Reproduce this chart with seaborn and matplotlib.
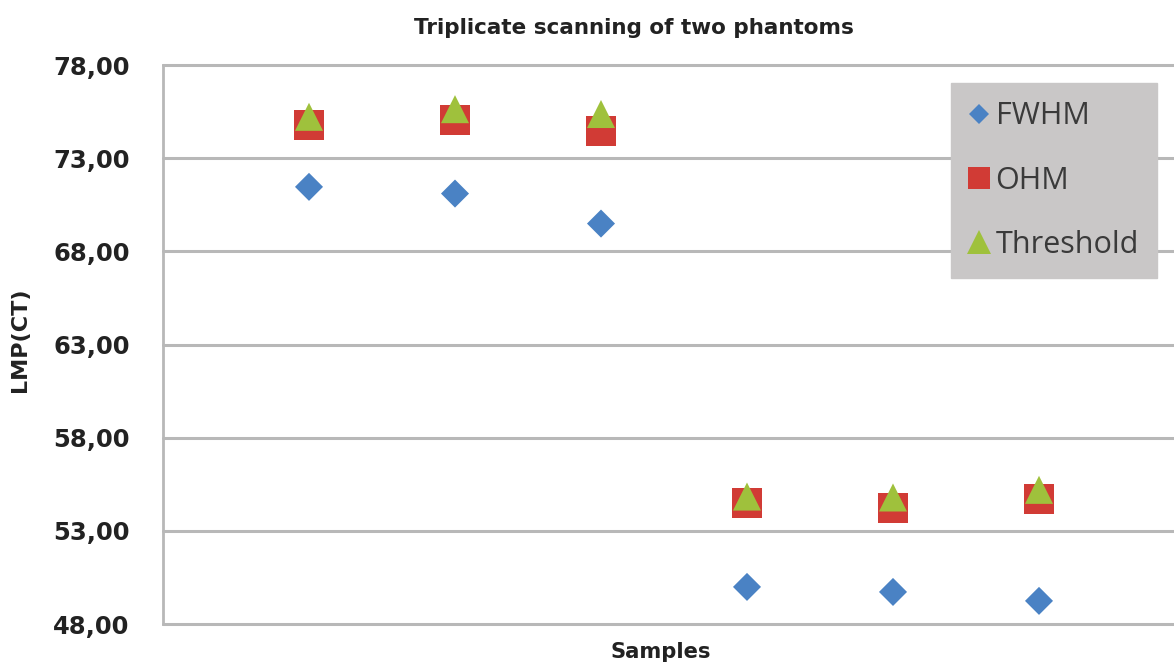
import matplotlib
matplotlib.use("Agg")
import matplotlib.pyplot as plt
from matplotlib.lines import Line2D
from matplotlib.ticker import FuncFormatter, FixedLocator
import pandas as pd
import seaborn as sns

# Measured LMP(CT) per sample and method
samples = [1, 2, 3, 4, 5, 6]
fwhm = [71.46, 71.10, 69.49, 49.99, 49.72, 49.24]
ohm = [74.77, 75.06, 74.48, 54.51, 54.24, 54.70]
threshold = [75.22, 75.63, 75.37, 54.84, 54.79, 55.20]
methods = ["FWHM", "OHM", "Threshold"]
y_ticks = [48, 53, 58, 63, 68, 73, 78]

title = "Triplicate scanning of two phantoms"
x_label = "Samples"
y_label = "LMP(CT)"

colors = {"FWHM": "#4a82c4", "OHM": "#d13b35", "Threshold": "#9fc13c"}
markers = {"FWHM": "D", "OHM": "s", "Threshold": "^"}
sizes = {"FWHM": 204, "OHM": 467, "Threshold": 408}

df = pd.DataFrame({
    "sample": samples * 3,
    "value": fwhm + ohm + threshold,
    "method": [m for m in methods for _ in samples],
})

sns.set_theme(style="white")
plt.rcParams["font.family"] = ["DejaVu Sans"]

W, H = 1174, 664
fig = plt.figure(figsize=(W / 100, H / 100), dpi=100)
fig.patch.set_facecolor("white")

left_px, right_px, top_px, bottom_px = 163, 1185, 65, 624
ax = fig.add_axes([left_px / W, 1 - bottom_px / H,
                   (right_px - left_px) / W, (bottom_px - top_px) / H])
ax.set_facecolor("white")

sns.scatterplot(data=df, x="sample", y="value", hue="method", style="method",
                size="method", palette=colors, markers=markers, sizes=sizes,
                linewidth=0, legend=False, ax=ax, zorder=3)

ax.set_xlim(0, 7)
ax.set_ylim(y_ticks[0], y_ticks[-1])
ax.yaxis.set_major_locator(FixedLocator(y_ticks))
ax.yaxis.set_major_formatter(FuncFormatter(lambda v, p: f"{v:.2f}".replace(".", ",")))
ax.set_xticks([])
ax.grid(axis="y", color="#b8b8b8", linewidth=2.2, zorder=0)
ax.set_axisbelow(True)
for gl in ax.get_ygridlines():
    gl.set_clip_on(False)
for side in ["top", "right", "bottom"]:
    ax.spines[side].set_visible(False)
ax.spines["left"].set_color("#b8b8b8")
ax.spines["left"].set_linewidth(2.0)
ax.tick_params(axis="y", length=0, pad=24, labelsize=17.5, labelcolor="#222222")
for lbl in ax.get_yticklabels():
    lbl.set_fontweight("bold")
ax.set_xlabel("")
ax.set_ylabel("")

fig.text(634 / W, 1 - 28 / H, title, ha="center", va="center",
         fontsize=15.5, fontweight="bold", color="#222222")
fig.text(661 / W, 1 - 652 / H, x_label, ha="center", va="center",
         fontsize=15.2, fontweight="bold", color="#222222")
fig.text(20 / W, 1 - 340 / H, y_label, ha="center", va="center", rotation=90,
         fontsize=16, fontweight="bold", color="#222222")

handles = [
    Line2D([], [], linestyle="none", marker="D", markersize=10,
           markerfacecolor=colors["FWHM"], markeredgewidth=0),
    Line2D([], [], linestyle="none", marker="s", markersize=16,
           markerfacecolor=colors["OHM"], markeredgewidth=0),
    Line2D([], [], linestyle="none", marker="^", markersize=17,
           markerfacecolor=colors["Threshold"], markeredgewidth=0),
]
leg = fig.legend(handles, methods, loc="upper left",
                 bbox_to_anchor=(951 / W, 1 - 83 / H),
                 bbox_transform=fig.transFigure,
                 frameon=True, fancybox=False, facecolor="#c9c7c7",
                 edgecolor="#c9c7c7", framealpha=1.0,
                 prop={"family": "Open Sans", "size": 22},
                 handlelength=0.6, handletextpad=0.26, labelspacing=1.12,
                 borderpad=0.6, borderaxespad=0)
for t in leg.get_texts():
    t.set_color("#3a3a3a")

fig.savefig("out.png", dpi=100, facecolor="white")
